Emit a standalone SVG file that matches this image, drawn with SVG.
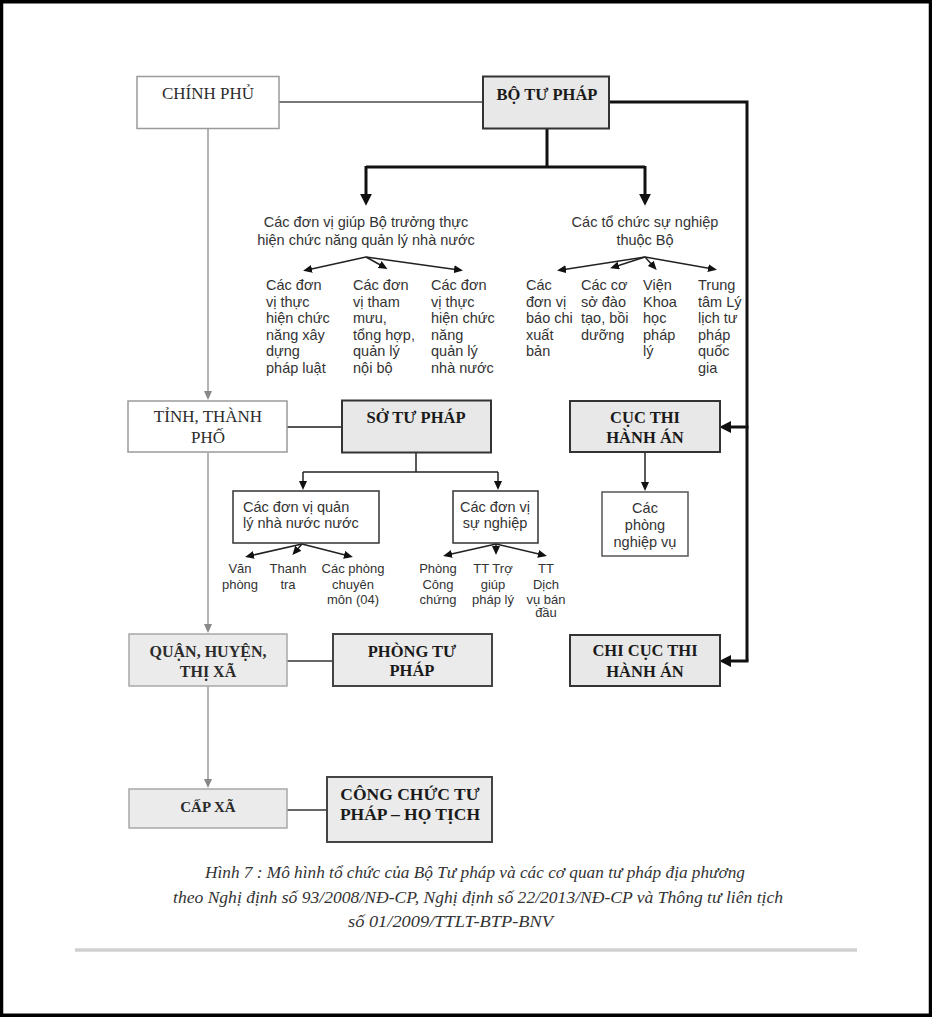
<svg xmlns="http://www.w3.org/2000/svg" width="932" height="1017" viewBox="0 0 932 1017">
<style>
.serif{font-family:"Liberation Serif","Times New Roman",serif;fill:#2b2b2b;text-anchor:middle}
.b{font-weight:bold;fill:#1a1a1a}
.reg{font-size:17px}
.bold{font-size:16.5px}
.sans{font-family:"Liberation Sans",Arial,sans-serif;fill:#333;font-size:14.5px}
.sm{font-family:"Liberation Sans",Arial,sans-serif;fill:#333;font-size:13px;text-anchor:middle}
.mid{text-anchor:middle}
.cap{font-family:"Liberation Serif","Times New Roman",serif;font-style:italic;font-size:16px;fill:#333}
.boxW{fill:#fff;stroke:#9a9a9a;stroke-width:1.5}
.boxG{fill:#e8e8e8;stroke:#333;stroke-width:2}
.boxLG{fill:#ebebeb;stroke:#a8a8a8;stroke-width:1.5}
.boxDG{fill:#ebebeb;stroke:#444;stroke-width:2}
.boxT{fill:#fff;stroke:#333;stroke-width:1.5}
.boxT2{fill:#fff;stroke:#555;stroke-width:1.5}
.thick{fill:none;stroke:#111;stroke-width:3}
.thin{fill:none;stroke:#222;stroke-width:1.5}
.gray{fill:none;stroke:#9a9a9a;stroke-width:1.5}
.link{fill:none;stroke:#666;stroke-width:2}
.link1{fill:none;stroke:#777;stroke-width:2}
.link2{fill:none;stroke:#555;stroke-width:2}
</style>
<defs>
<marker id="aBig" markerUnits="userSpaceOnUse" markerWidth="12" markerHeight="12" refX="6" refY="5" orient="auto" viewBox="0 0 10 10"><path d="M0,0 L10,5 L0,10 z" fill="#111"/></marker>
<marker id="aSm" markerUnits="userSpaceOnUse" markerWidth="9" markerHeight="8" refX="5" refY="4" orient="auto" viewBox="0 0 9 8"><path d="M0,0 L9,4 L0,8 z" fill="#111"/></marker>
<marker id="aGray" markerUnits="userSpaceOnUse" markerWidth="9" markerHeight="8" refX="5" refY="4" orient="auto" viewBox="0 0 9 8"><path d="M0,0 L9,4 L0,8 z" fill="#888"/></marker>
</defs>
<rect x="0" y="0" width="932" height="1017" fill="#fff"/>
<rect x="1.5" y="1.75" width="929" height="1013.5" fill="none" stroke="#000" stroke-width="3.5"/>

<g id="connectors">
  <line class="link1" x1="279" y1="102" x2="483" y2="102"/>
  <line class="link2" x1="287" y1="427" x2="342" y2="427"/>
  <line class="link" x1="287" y1="661" x2="333" y2="661"/>
  <line class="link" x1="287" y1="810" x2="327" y2="810"/>
  <line class="gray" x1="208" y1="129" x2="208" y2="396" marker-end="url(#aGray)"/>
  <line class="gray" x1="208" y1="453" x2="208" y2="629" marker-end="url(#aGray)"/>
  <line class="gray" x1="208" y1="686" x2="208" y2="784" marker-end="url(#aGray)"/>
  <polyline class="thick" points="547,129 547,167"/>
  <polyline class="thick" points="366,167 645,167"/>
  <line class="thick" x1="366" y1="166" x2="366" y2="201" marker-end="url(#aBig)"/>
  <line class="thick" x1="645" y1="166" x2="645" y2="201" marker-end="url(#aBig)"/>
  <polyline class="thick" points="609,102 747,102 747,661"/>
  <line class="thick" x1="748.5" y1="427" x2="724" y2="427" marker-end="url(#aBig)"/>
  <line class="thick" x1="748.5" y1="661" x2="724" y2="661" marker-end="url(#aBig)"/>
  <line class="thin" x1="366" y1="257" x2="307" y2="270" marker-end="url(#aSm)"/>
  <line class="thin" x1="366" y1="257" x2="384" y2="267" marker-end="url(#aSm)"/>
  <line class="thin" x1="366" y1="257" x2="459" y2="270" marker-end="url(#aSm)"/>
  <line class="thin" x1="645" y1="257" x2="561" y2="270" marker-end="url(#aSm)"/>
  <line class="thin" x1="645" y1="257" x2="614" y2="267" marker-end="url(#aSm)"/>
  <line class="thin" x1="645" y1="257" x2="654" y2="267" marker-end="url(#aSm)"/>
  <line class="thin" x1="645" y1="257" x2="713" y2="269" marker-end="url(#aSm)"/>
  <polyline class="thin" points="416,453 416,472"/>
  <polyline class="thin" points="303,472 498,472"/>
  <line class="thin" x1="303" y1="472" x2="303" y2="486" marker-end="url(#aSm)"/>
  <line class="thin" x1="498" y1="472" x2="498" y2="486" marker-end="url(#aSm)"/>
  <line class="thin" x1="302" y1="544" x2="249" y2="556" marker-end="url(#aSm)"/>
  <line class="thin" x1="302" y1="544" x2="295" y2="552" marker-end="url(#aSm)"/>
  <line class="thin" x1="302" y1="544" x2="349" y2="556" marker-end="url(#aSm)"/>
  <line class="thin" x1="496" y1="544" x2="447" y2="555" marker-end="url(#aSm)"/>
  <line class="thin" x1="496" y1="544" x2="496" y2="551" marker-end="url(#aSm)"/>
  <line class="thin" x1="496" y1="544" x2="543" y2="555" marker-end="url(#aSm)"/>
  <line class="thin" x1="645" y1="452" x2="645" y2="487" marker-end="url(#aSm)"/>
</g>

<g id="chinh-phu">
  <rect class="boxW" x="137" y="76.5" width="142" height="52"/>
  <text class="serif reg" x="208" y="99">CHÍNH PHỦ</text>
</g>
<g id="bo-tu-phap">
  <rect class="boxG" x="483" y="76.5" width="126" height="52"/>
  <text class="serif b bold" x="547" y="100">BỘ TƯ PHÁP</text>
</g>

<g id="don-vi-giup-bo">
  <text class="sans mid" x="366" y="227">Các đơn vị giúp Bộ trưởng thực</text>
  <text class="sans mid" x="366" y="245">hiện chức năng quản lý nhà nước</text>
</g>
<g id="to-chuc-su-nghiep">
  <text class="sans mid" x="645" y="227">Các tổ chức sự nghiệp</text>
  <text class="sans mid" x="645" y="245">thuộc Bộ</text>
</g>

<g id="xay-dung-phap-luat">
  <text class="sans" x="266" y="290">Các đơn</text>
  <text class="sans" x="266" y="306.6">vị thực</text>
  <text class="sans" x="266" y="323.2">hiện chức</text>
  <text class="sans" x="266" y="339.8">năng xây</text>
  <text class="sans" x="266" y="356.4">dựng</text>
  <text class="sans" x="266" y="373">pháp luật</text>
</g>
<g id="tham-muu">
  <text class="sans" x="353" y="290">Các đơn</text>
  <text class="sans" x="353" y="306.6">vị tham</text>
  <text class="sans" x="353" y="323.2">mưu,</text>
  <text class="sans" x="353" y="339.8">tổng hợp,</text>
  <text class="sans" x="353" y="356.4">quản lý</text>
  <text class="sans" x="353" y="373">nội bộ</text>
</g>
<g id="quan-ly-nha-nuoc">
  <text class="sans" x="431" y="290">Các đơn</text>
  <text class="sans" x="431" y="306.6">vị thực</text>
  <text class="sans" x="431" y="323.2">hiện chức</text>
  <text class="sans" x="431" y="339.8">năng</text>
  <text class="sans" x="431" y="356.4">quản lý</text>
  <text class="sans" x="431" y="373">nhà nước</text>
</g>

<g id="bao-chi">
  <text class="sans" x="526" y="290">Các</text>
  <text class="sans" x="526" y="306.6">đơn vị</text>
  <text class="sans" x="526" y="323.2">báo chi</text>
  <text class="sans" x="526" y="339.8">xuất</text>
  <text class="sans" x="526" y="356.4">bản</text>
</g>
<g id="dao-tao">
  <text class="sans" x="581" y="290">Các cơ</text>
  <text class="sans" x="581" y="306.6">sở đào</text>
  <text class="sans" x="581" y="323.2">tạo, bồi</text>
  <text class="sans" x="581" y="339.8">dưỡng</text>
</g>
<g id="vien-khoa-hoc">
  <text class="sans" x="643" y="290">Viện</text>
  <text class="sans" x="643" y="306.6">Khoa</text>
  <text class="sans" x="643" y="323.2">học</text>
  <text class="sans" x="643" y="339.8">pháp</text>
  <text class="sans" x="643" y="356.4">lý</text>
</g>
<g id="ly-lich-tu-phap">
  <text class="sans" x="698" y="290">Trung</text>
  <text class="sans" x="698" y="306.6">tâm Lý</text>
  <text class="sans" x="698" y="323.2">lịch tư</text>
  <text class="sans" x="698" y="339.8">pháp</text>
  <text class="sans" x="698" y="356.4">quốc</text>
  <text class="sans" x="698" y="373">gia</text>
</g>

<g id="tinh-thanh-pho">
  <rect class="boxW" x="128" y="401" width="159" height="51"/>
  <text class="serif reg" x="208" y="422">TỈNH, THÀNH</text>
  <text class="serif reg" x="208" y="443">PHỐ</text>
</g>
<g id="so-tu-phap">
  <rect class="boxG" x="342" y="400.5" width="149" height="52"/>
  <text class="serif b bold" x="416" y="423">SỞ TƯ PHÁP</text>
</g>
<g id="cuc-thi-hanh-an">
  <rect class="boxG" x="570" y="401" width="150" height="51"/>
  <text class="serif b bold" x="645" y="423">CỤC THI</text>
  <text class="serif b bold" x="645" y="443">HÀNH ÁN</text>
</g>

<g id="don-vi-qlnn">
  <rect class="boxT" x="233" y="491" width="146" height="52"/>
  <text class="sans" x="243" y="512">Các đơn vị quản</text>
  <text class="sans" x="243" y="528">lý nhà nước nước</text>
</g>
<g id="don-vi-su-nghiep">
  <rect class="boxT" x="453" y="491" width="85" height="52"/>
  <text class="sans mid" x="495" y="512">Các đơn vị</text>
  <text class="sans mid" x="495" y="528">sự nghiệp</text>
</g>
<g id="phong-nghiep-vu">
  <rect class="boxT2" x="602" y="492" width="86" height="64"/>
  <text class="sans mid" x="645" y="513">Các</text>
  <text class="sans mid" x="645" y="530">phòng</text>
  <text class="sans mid" x="645" y="547">nghiệp vụ</text>
</g>

<g id="van-phong">
  <text class="sm" x="240" y="573">Văn</text>
  <text class="sm" x="240" y="588.5">phòng</text>
</g>
<g id="thanh-tra">
  <text class="sm" x="288" y="573">Thanh</text>
  <text class="sm" x="288" y="588.5">tra</text>
</g>
<g id="phong-chuyen-mon">
  <text class="sm" x="353" y="573">Các phòng</text>
  <text class="sm" x="353" y="588.5">chuyên</text>
  <text class="sm" x="353" y="604">môn (04)</text>
</g>
<g id="cong-chung">
  <text class="sm" x="438" y="573">Phòng</text>
  <text class="sm" x="438" y="588.5">Công</text>
  <text class="sm" x="438" y="604">chứng</text>
</g>
<g id="tro-giup-phap-ly">
  <text class="sm" x="493" y="573">TT Trợ</text>
  <text class="sm" x="493" y="588.5">giúp</text>
  <text class="sm" x="493" y="604">pháp lý</text>
</g>
<g id="dich-vu-ban-dau">
  <text class="sm" x="546" y="573">TT</text>
  <text class="sm" x="546" y="588.5">Dịch</text>
  <text class="sm" x="546" y="604">vụ bán</text>
  <text class="sm" x="546" y="617">đầu</text>
</g>

<g id="quan-huyen">
  <rect class="boxLG" x="129" y="634" width="158" height="52"/>
  <text class="serif reg" x="208" y="657" style="font-weight:bold;font-size:16px">QUẬN, HUYỆN,</text>
  <text class="serif reg" x="208" y="677" style="font-weight:bold;font-size:16px">THỊ XÃ</text>
</g>
<g id="phong-tu-phap">
  <rect class="boxDG" x="333" y="634" width="159" height="52"/>
  <text class="serif b bold" x="412" y="657">PHÒNG TƯ</text>
  <text class="serif b bold" x="412" y="676">PHÁP</text>
</g>
<g id="chi-cuc-thi-hanh-an">
  <rect class="boxG" x="570" y="635" width="150" height="51"/>
  <text class="serif b bold" x="645" y="656">CHI CỤC THI</text>
  <text class="serif b bold" x="645" y="677">HÀNH ÁN</text>
</g>

<g id="cap-xa">
  <rect class="boxLG" x="129" y="789" width="158" height="39"/>
  <text class="serif reg" x="208" y="812" style="font-weight:bold;font-size:15px">CẤP XÃ</text>
</g>
<g id="cong-chuc-tu-phap">
  <rect class="boxDG" x="327" y="777" width="165" height="65"/>
  <text class="serif b" x="410" y="800" style="font-size:17.5px">CÔNG CHỨC TƯ</text>
  <text class="serif b" x="410" y="820" style="font-size:17.5px">PHÁP – HỌ TỊCH</text>
</g>

<g id="caption">
  <text class="cap" x="205" y="878" textLength="540" lengthAdjust="spacingAndGlyphs">Hình 7 : Mô hình tổ chức của Bộ Tư pháp và các cơ quan tư pháp địa phương</text>
  <text class="cap" x="173" y="903" textLength="610" lengthAdjust="spacingAndGlyphs">theo Nghị định số 93/2008/NĐ-CP, Nghị định số 22/2013/NĐ-CP và Thông tư liên tịch</text>
  <text class="cap" x="348" y="927" textLength="205" lengthAdjust="spacingAndGlyphs">số 01/2009/TTLT-BTP-BNV</text>
</g>
<line x1="75" y1="950" x2="857" y2="950" stroke="#d0d0d0" stroke-width="3.5"/>
</svg>
